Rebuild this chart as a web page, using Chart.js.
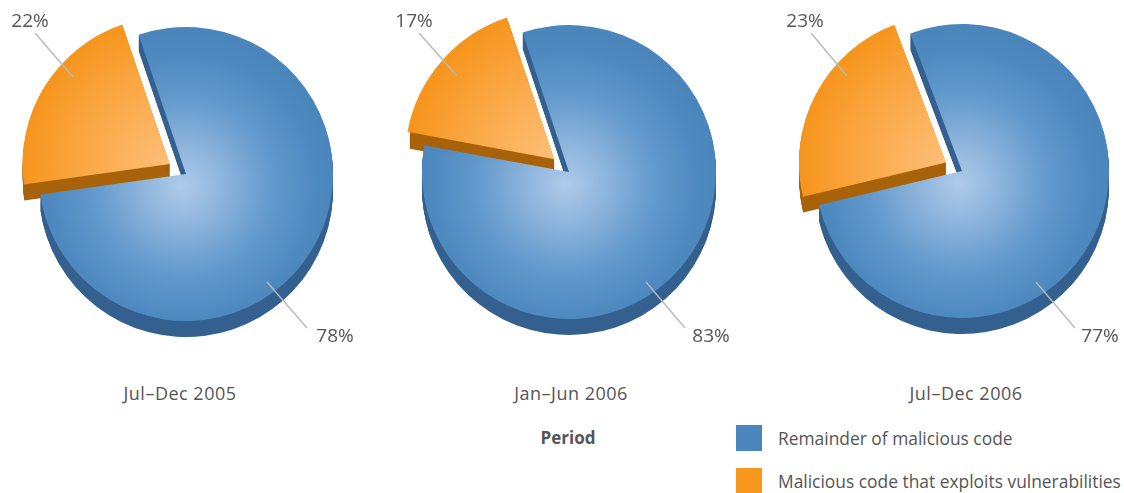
<!DOCTYPE html>
<html>
<head>
<meta charset="utf-8">
<title>Malicious code that exploits vulnerabilities</title>
<script src="https://cdn.jsdelivr.net/npm/chart.js@4"></script>
<style>
  html, body { margin: 0; padding: 0; background: #fff; }
  #page { position: relative; width: 1124px; height: 493px; overflow: hidden; font-family: "Open Sans", sans-serif; color: #555; }
  #page canvas { position: absolute; }
  .txt { position: absolute; white-space: nowrap; transform: translate(-50%, -50%); }
  .pct { font-size: 19px; }
  .period { font-size: 18px; letter-spacing: 0.5px; }
  .axis { font-size: 17px; font-weight: 700; }
  .swatch { position: absolute; width: 26px; height: 26px; }
  .leg { position: absolute; white-space: nowrap; font-size: 17.4px; transform: translateY(-50%); }
</style>
</head>
<body>
<div id="page"></div>
<script>
// data
var periods = ["Jul–Dec 2005", "Jan–Jun 2006", "Jul–Dec 2006"];
var categories = ["Remainder of malicious code", "Malicious code that exploits vulnerabilities"];
var remainder = [78, 83, 77];
var exploits = [22, 17, 23];
var axisTitle = "Period";

// layout, one entry per pie
var centerX = [186, 569, 962];
var centerY = [174, 172, 171];
var rotations = [341.2, 341.6, 339.4];
var explode = [76, 78, 72];
var periodX = [180, 571, 966];
var exploitLine = [[35, 33, 73, 77], [419, 33, 457, 76], [811, 33, 847, 76]];
var remainderLine = [[267, 282, 307, 328], [646, 282, 685, 328], [1036, 282, 1075, 328]];
var exploitLabel = [[30, 20], [414, 20], [805, 20]];
var remainderLabel = [[335, 335], [711, 335], [1100, 335]];

var RADIUS = 147;
var DEPTH = 16;
var W = 340;
var H = 340;
var wallColors = ["#33608e", "#a8620a"];
var legendColors = ["#4a86bd", "#f7971e"];

var page = document.getElementById("page");

function addText(cls, str, x, y) {
    var d = document.createElement("div");
    d.className = cls;
    d.textContent = str;
    d.style.left = x + "px";
    d.style.top = y + "px";
    page.appendChild(d);
}

// side wall of the pie, the arcs repeated downward
var wallPlugin = {
    id: "wall",
    beforeDatasetsDraw: function (chart) {
        var c = chart.ctx;
        var arcs = chart.getDatasetMeta(0).data;
        arcs.forEach(function (arc, i) {
            var p = arc.getProps(["x", "y", "startAngle", "endAngle", "outerRadius"]);
            // same shift as the arc element uses for its offset option
            var off = arc.options.offset / 4;
            var mid = (p.startAngle + p.endAngle) / 2;
            var x = p.x + Math.cos(mid) * off;
            var y = p.y + Math.sin(mid) * off;
            c.save();
            c.fillStyle = wallColors[i];
            for (var k = 1; k <= DEPTH; k++) {
                c.beginPath();
                c.moveTo(x, y + k);
                c.arc(x, y + k, p.outerRadius, p.startAngle, p.endAngle);
                c.closePath();
                c.fill();
            }
            c.restore();
        });
    }
};

// thin grey lines from the slices to the percent labels
var leaderPlugin = {
    id: "leader",
    afterDatasetsDraw: function (chart, args, opts) {
        var c = chart.ctx;
        c.save();
        c.strokeStyle = "#b9b9b9";
        c.lineWidth = 1.4;
        opts.lines.forEach(function (l) {
            c.beginPath();
            c.moveTo(l[0] - opts.left, l[1] - opts.top);
            c.lineTo(l[2] - opts.left, l[3] - opts.top);
            c.stroke();
        });
        c.restore();
    }
};

function sliceFill(ctx) {
    var g2 = ctx.chart.ctx;
    var cx = W / 2;
    var cy = H / 2;
    var g;
    if (ctx.dataIndex == 0) {
        g = g2.createRadialGradient(cx - 3, cy + 12, 0, cx - 3, cy + 12, RADIUS + 8);
        g.addColorStop(0, "#aecbea");
        g.addColorStop(0.25, "#8fb5dc");
        g.addColorStop(0.55, "#659bcd");
        g.addColorStop(0.85, "#4e89c0");
        g.addColorStop(1, "#4a85bc");
    } else {
        g = g2.createRadialGradient(cx, cy, 0, cx, cy, RADIUS);
        g.addColorStop(0, "#fdbf78");
        g.addColorStop(0.5, "#fbab4c");
        g.addColorStop(1, "#f6951d");
    }
    return g;
}

periods.forEach(function (period, n) {
    var left = centerX[n] - W / 2;
    var top = centerY[n] - H / 2;

    var cv = document.createElement("canvas");
    cv.width = W;
    cv.height = H;
    cv.style.left = left + "px";
    cv.style.top = top + "px";
    page.appendChild(cv);

    new Chart(cv.getContext("2d"), {
        type: "pie",
        plugins: [wallPlugin, leaderPlugin],
        data: {
            labels: categories,
            datasets: [{
                data: [remainder[n], exploits[n]],
                backgroundColor: sliceFill,
                borderWidth: 0,
                offset: [0, explode[n]]
            }]
        },
        options: {
            responsive: false,
            animation: false,
            rotation: rotations[n],
            radius: RADIUS,
            layout: { padding: 0 },
            events: [],
            plugins: {
                legend: { display: false },
                tooltip: { enabled: false },
                leader: { lines: [exploitLine[n], remainderLine[n]], left: left, top: top }
            }
        }
    });

    addText("txt pct", exploits[n] + "%", exploitLabel[n][0], exploitLabel[n][1]);
    addText("txt pct", remainder[n] + "%", remainderLabel[n][0], remainderLabel[n][1]);
    addText("txt period", period, periodX[n], 393);
});

addText("txt axis", axisTitle, 568, 437);

var legendY = [438, 481];
categories.forEach(function (name, i) {
    var s = document.createElement("div");
    s.className = "swatch";
    s.style.left = "736px";
    s.style.top = (legendY[i] - 13) + "px";
    s.style.background = legendColors[i];
    page.appendChild(s);
    var t = document.createElement("div");
    t.className = "leg";
    t.textContent = name;
    t.style.left = "778px";
    t.style.top = legendY[i] + "px";
    page.appendChild(t);
});
</script>
</body>
</html>
